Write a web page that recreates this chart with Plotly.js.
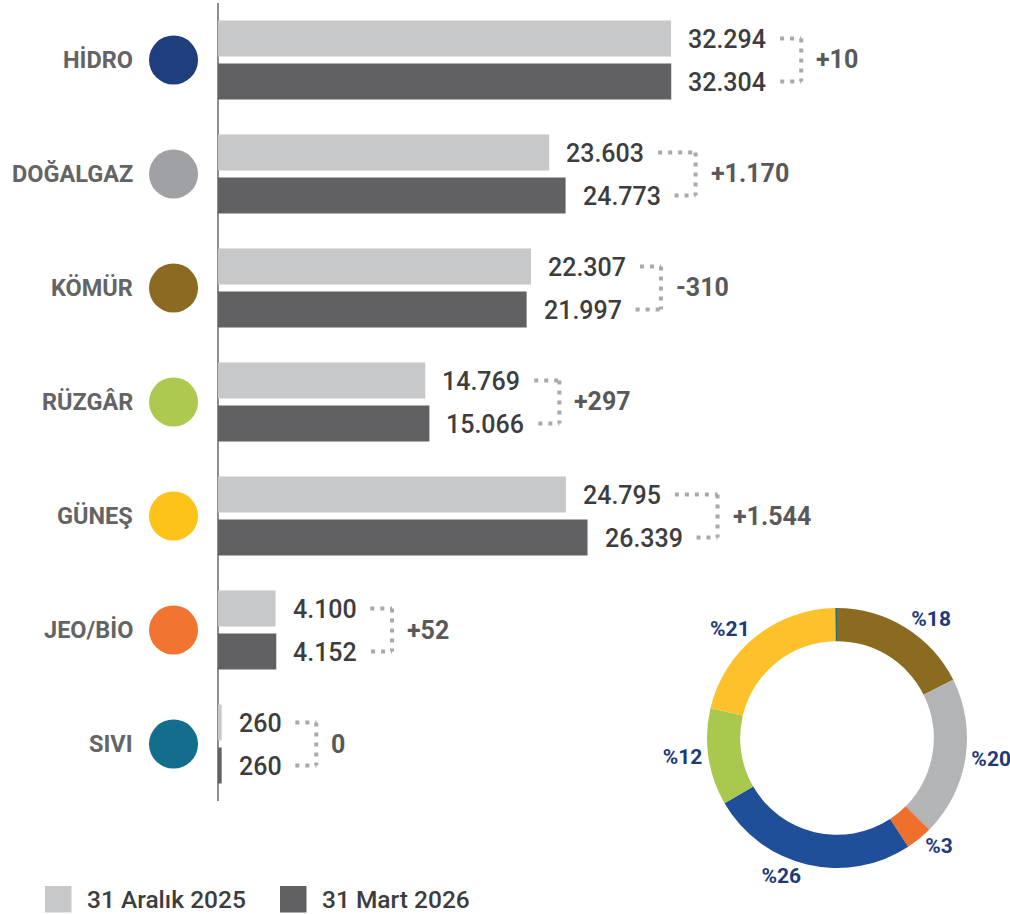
<!DOCTYPE html>
<html><head><meta charset="utf-8">
<script src="https://cdn.plot.ly/plotly-3.0.1.min.js"></script>
<style>html,body{margin:0;padding:0;background:#fff}#chart{width:1010px;height:914px}</style>
</head><body><div id="chart"></div>
<script>
// ---- data ----
const categories = ['HİDRO','DOĞALGAZ','KÖMÜR','RÜZGÂR','GÜNEŞ','JEO/BİO','SIVI'];
const seriesNames = ['31 Aralık 2025','31 Mart 2026'];
const dec2025 = [32294,23603,22307,14769,24795,4100,260];
const mar2026 = [32304,24773,21997,15066,26339,4152,260];
const categoryColors = ['#1f3e7e','#a0a1a5','#8b6b22','#adc94f','#fdc319','#f17430','#126e8c'];
const seriesColors = ['#c7c8ca','#616163'];
const pieOrder = ['KÖMÜR','DOĞALGAZ','JEO/BİO','HİDRO','RÜZGÂR','GÜNEŞ','SIVI'];
const pieColors = ['#8a6b20','#b2b4b6','#ef702d','#1e4f98','#a9c84e','#fcc12b','#1a6f8e'];

// ---- layout constants ----
const W = 1010, H = 914;
const xMin = -15540, xMax = 56450;
const k = W / (xMax - xMin);           // px per unit
const ROW = 21.5, TEXT_GAP = 17, DOT_GAP = 14, BR_GAP = 21, DIFF_GAP = 15;
const numFont = {family:'Roboto, sans-serif', size:25, color:'#3d3d3d', weight:500};
const diffFont = {family:'Roboto, sans-serif', size:25, color:'#595959', weight:700};
const catFont = {family:'Roboto, sans-serif', size:23.5, color:'#646464', weight:700};
const dotColor = '#a9a9a9';

function fmt(n){ return String(Math.abs(n)).replace(/\B(?=(\d{3})+(?!\d))/g,'.'); }
function diffLabel(d){ return d>0 ? '+'+fmt(d) : (d<0 ? '-'+fmt(d) : '0'); }
const cv = document.createElement('canvas').getContext('2d');
function tw(t, f){ cv.font = f.weight+' '+f.size+'px Roboto'; return cv.measureText(t).width; }

const traces = [
  {type:'bar', orientation:'h', name:seriesNames[0], y:categories, x:dec2025,
   marker:{color:seriesColors[0]}, hoverinfo:'skip', showlegend:false},
  {type:'bar', orientation:'h', name:seriesNames[1], y:categories, x:mar2026,
   marker:{color:seriesColors[1]}, hoverinfo:'skip', showlegend:false}
];

const total = mar2026.reduce((a,b)=>a+b,0);
const pieVals = pieOrder.map(c => mar2026[categories.indexOf(c)]);
const pieText = pieVals.map(v => { const p = Math.round(v/total*100); return p>0 ? '%'+p : ''; });
traces.push({type:'pie', labels:pieOrder, values:pieVals, text:pieText, texttemplate:'%{text}',
  textposition:'outside', sort:false, direction:'clockwise', rotation:0, hole:0.745,
  marker:{colors:pieColors, line:{width:0}}, showlegend:false, hoverinfo:'skip',
  textfont:{family:'Roboto, sans-serif', size:21, color:'#1f3a78', weight:700},
  domain:{x:[707/W, 967/W], y:[1-868/H, 1-608/H]}});

const shapes = [], annotations = [];
categories.forEach((c,i) => {
  annotations.push({x:0, y:c, xref:'x', yref:'y', text:c, showarrow:false, xanchor:'right',
    yanchor:'middle', xshift:-83, font:catFont});
  shapes.push({type:'circle', xref:'x', yref:'y', xsizemode:'pixel', ysizemode:'pixel',
    xanchor:0, yanchor:c, x0:-69, x1:-20, y0:-24.5, y1:24.5, fillcolor:categoryColors[i], line:{width:0}});
  const rows = [{v:dec2025[i], s:ROW}, {v:mar2026[i], s:-ROW}];
  const ends = rows.map(r => r.v*k + TEXT_GAP + tw(fmt(r.v), numFont) + DOT_GAP);
  const bx = Math.max(...ends) + BR_GAP;
  rows.forEach((r,j) => {
    annotations.push({x:r.v, y:c, xref:'x', yref:'y', text:fmt(r.v), showarrow:false,
      xanchor:'left', yanchor:'middle', xshift:TEXT_GAP-2, yshift:r.s-1, font:numFont});
    shapes.push({type:'line', xref:'x', yref:'y', xsizemode:'pixel', ysizemode:'pixel',
      xanchor:r.v, yanchor:c, x0:ends[j]-r.v*k, x1:bx-r.v*k, y0:r.s, y1:r.s,
      line:{color:dotColor, width:4, dash:'4px,6px'}});
  });
  shapes.push({type:'line', xref:'x', yref:'y', xsizemode:'pixel', ysizemode:'pixel',
    xanchor:0, yanchor:c, x0:bx, x1:bx, y0:ROW, y1:-ROW,
    line:{color:dotColor, width:4, dash:'4px,6px'}});
  annotations.push({x:0, y:c, xref:'x', yref:'y', text:diffLabel(mar2026[i]-dec2025[i]), showarrow:false,
    xanchor:'left', yanchor:'middle', xshift:bx+DIFF_GAP-2, font:diffFont});
});

// custom legend
const legX = [45, 280];
seriesNames.forEach((n,i) => {
  shapes.push({type:'rect', xref:'paper', yref:'paper', x0:legX[i]/W, x1:(legX[i]+26.5)/W,
    y0:1-912.5/H, y1:1-886/H, fillcolor:seriesColors[i], line:{width:0}});
  annotations.push({x:(legX[i]+40)/W, y:1-899/H, xref:'paper', yref:'paper', text:n, showarrow:false,
    xanchor:'left', yanchor:'middle', font:{family:'Roboto, sans-serif', size:24.5, color:'#3d3d3d', weight:500}});
});

const layout = {
  width:W, height:H, margin:{l:0,r:0,t:0,b:0}, paper_bgcolor:'#fff', plot_bgcolor:'rgba(0,0,0,0)',
  barmode:'group', bargap:0.246, bargroupgap:0.163, showlegend:false,
  xaxis:{range:[xMin,xMax], domain:[0,1], showgrid:false, showticklabels:false, ticks:'',
    zeroline:true, zerolinecolor:'#8c8c8c', zerolinewidth:2, fixedrange:true},
  yaxis:{type:'category', categoryarray:categories, categoryorder:'array', autorange:'reversed',
    domain:[1-801/H, 1-3/H], showgrid:false, showticklabels:false, ticks:'', showline:false, zeroline:false, fixedrange:true},
  shapes, annotations
};
Plotly.newPlot('chart', traces, layout, {displayModeBar:false, staticPlot:true});
</script></body></html>
